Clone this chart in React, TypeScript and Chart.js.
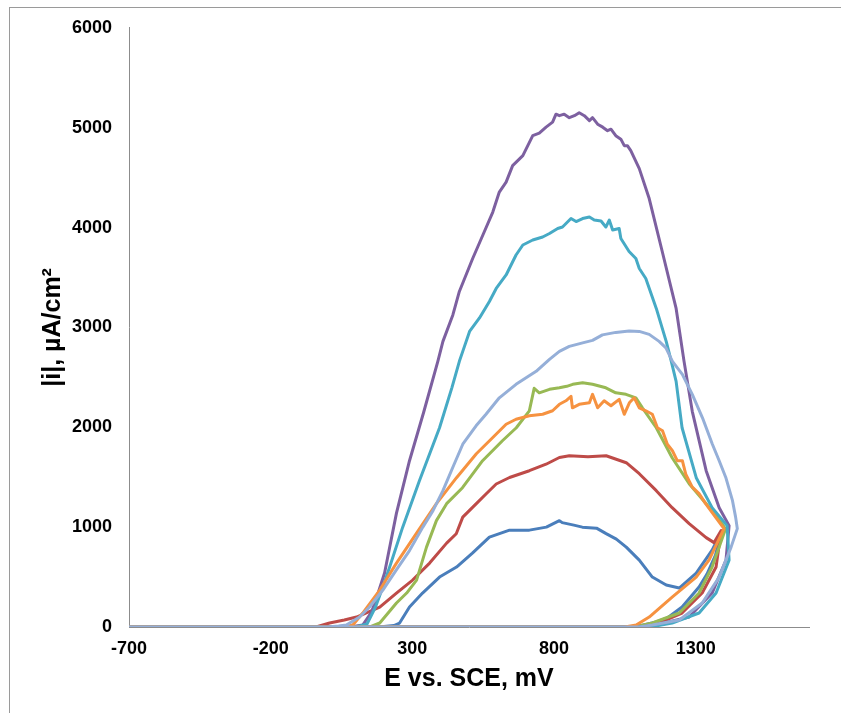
import React, { useEffect, useRef } from 'react';
import { Chart, registerables } from 'chart.js';

Chart.register(...registerables);

// Axis ticks
const xTickValues = [-700, -200, 300, 800, 1300];
const yTickValues = [0, 1000, 2000, 3000, 4000, 5000, 6000];

// Series 1 (blue)
const blueX = [-700, 150, 200, 235, 255, 290, 336, 396, 456, 512, 572, 643, 713, 773, 819, 829, 870, 900, 950, 984, 1020, 1055, 1101, 1147, 1196, 1242, 1302, 1358, 1390, 1370, 1340, 1312, 1252, 1200, 1161, 1100, 1050, -700];
const blueY = [0, 0, 5, 15, 40, 200, 340, 500, 600, 740, 900, 970, 970, 1000, 1065, 1045, 1020, 1000, 990, 935, 880, 800, 670, 500, 420, 390, 540, 770, 950, 720, 530, 400, 200, 90, 50, 10, 0, 0];

// Series 2 (red)
const redX = [-700, -40, 8, 60, 103, 185, 244, 301, 361, 421, 455, 478, 525, 560, 596, 643, 713, 772, 819, 854, 920, 984, 1055, 1101, 1161, 1217, 1277, 1337, 1365, 1390, 1372, 1323, 1252, 1161, 1100, 1050, -700];
const redY = [0, 0, 40, 70, 100, 200, 340, 470, 640, 840, 934, 1100, 1233, 1332, 1432, 1497, 1565, 1630, 1697, 1715, 1705, 1715, 1645, 1535, 1365, 1195, 1035, 895, 845, 965, 600, 340, 140, 30, 5, 0, 0];

// Series 3 (green)
const greenX = [-700, 150, 185, 244, 280, 315, 350, 385, 421, 477, 548, 618, 667, 713, 730, 748, 784, 819, 845, 866, 901, 936, 983, 1018, 1054, 1089, 1112, 1161, 1217, 1277, 1337, 1393, 1405, 1358, 1312, 1242, 1147, 1100, 1060, -700];
const greenY = [0, 0, 40, 240, 340, 470, 800, 1065, 1235, 1395, 1665, 1865, 1995, 2165, 2390, 2345, 2380, 2395, 2410, 2430, 2445, 2430, 2395, 2345, 2330, 2295, 2195, 1995, 1695, 1435, 1235, 1035, 980, 600, 340, 140, 40, 10, 0, 0];

// Series 4 (purple)
const purpleX = [-700, 80, 125, 156, 177, 202, 244, 290, 340, 390, 408, 443, 466, 513, 549, 584, 607, 631, 654, 690, 725, 748, 772, 795, 807, 819, 836, 854, 872, 889, 907, 925, 936, 954, 972, 989, 1001, 1018, 1036, 1048, 1059, 1071, 1101, 1136, 1182, 1231, 1259, 1288, 1337, 1383, 1418, 1407, 1358, 1277, 1160, 1100, -700];
const purpleY = [0, 0, 20, 150, 320, 540, 1140, 1665, 2150, 2660, 2860, 3125, 3360, 3690, 3925, 4155, 4355, 4455, 4620, 4720, 4920, 4945, 5005, 5055, 5135, 5120, 5135, 5100, 5120, 5150, 5120, 5070, 5100, 5035, 5005, 4970, 4985, 4920, 4885, 4820, 4820, 4770, 4590, 4290, 3760, 3190, 2660, 2160, 1565, 1195, 1015, 670, 340, 100, 20, 0, 0];

// Series 5 (teal)
const tealX = [-700, 100, 140, 170, 192, 220, 266, 325, 396, 440, 466, 478, 502, 537, 572, 596, 631, 666, 690, 725, 760, 784, 813, 830, 860, 878, 901, 925, 942, 966, 983, 995, 1007, 1030, 1036, 1065, 1089, 1101, 1124, 1161, 1196, 1214, 1231, 1252, 1302, 1358, 1411, 1418, 1372, 1312, 1217, 1150, 1100, -700];
const tealY = [0, 0, 30, 200, 370, 600, 1000, 1465, 1995, 2400, 2660, 2760, 2960, 3095, 3260, 3390, 3525, 3725, 3825, 3875, 3905, 3940, 3990, 4005, 4090, 4060, 4090, 4105, 4075, 4065, 4005, 4075, 3975, 3990, 3890, 3760, 3690, 3590, 3490, 3190, 2860, 2660, 2460, 1995, 1495, 1195, 1015, 670, 340, 140, 40, 5, 0, 0];

// Series 6 (orange)
const orangeX = [-700, 60, 90, 125, 185, 244, 315, 385, 456, 526, 584, 631, 666, 713, 760, 795, 819, 842, 860, 865, 889, 925, 936, 954, 977, 1001, 1030, 1048, 1066, 1083, 1101, 1124, 1147, 1165, 1183, 1200, 1218, 1235, 1253, 1265, 1288, 1312, 1335, 1370, 1400, 1347, 1302, 1217, 1136, 1090, 1050, -700];
const orangeY = [0, 0, 20, 140, 370, 640, 940, 1235, 1495, 1735, 1897, 2030, 2080, 2115, 2130, 2165, 2230, 2265, 2310, 2195, 2230, 2245, 2330, 2195, 2265, 2215, 2280, 2130, 2245, 2295, 2195, 2165, 2130, 1995, 1965, 1830, 1765, 1665, 1665, 1530, 1400, 1335, 1235, 1100, 985, 670, 500, 300, 100, 20, 0, 0];

// Series 7 (light blue)
const lightX = [-700, 0, 40, 67, 114, 149, 196, 243, 290, 337, 373, 408, 443, 478, 525, 560, 607, 666, 737, 784, 819, 854, 901, 936, 971, 1018, 1065, 1101, 1136, 1171, 1195, 1218, 1253, 1288, 1324, 1359, 1383, 1406, 1430, 1441, 1447, 1425, 1383, 1323, 1242, 1147, 1100, -700];
const lightY = [0, 0, 10, 20, 100, 200, 370, 570, 765, 1000, 1165, 1365, 1600, 1830, 2015, 2130, 2295, 2430, 2560, 2680, 2760, 2810, 2845, 2870, 2925, 2950, 2965, 2960, 2930, 2860, 2795, 2660, 2530, 2330, 2095, 1830, 1665, 1500, 1265, 1100, 985, 800, 500, 240, 70, 20, 0, 0];

const seriesNames = ['S1', 'S2', 'S3', 'S4', 'S5', 'S6', 'S7'];
const seriesColors = ['#4A7EBB', '#BE4B48', '#98B954', '#7D60A0', '#46AAC5', '#F69240', '#95AFD8'];
const seriesX = [blueX, redX, greenX, purpleX, tealX, orangeX, lightX];
const seriesY = [blueY, redY, greenY, purpleY, tealY, orangeY, lightY];

const FONT = "'Liberation Sans', Arial, sans-serif";

const framePlugin = {
  id: 'frame',
  beforeDraw(chart: any) {
    const { ctx, width, height } = chart;
    ctx.save();
    ctx.fillStyle = '#ffffff';
    ctx.fillRect(0, 0, width, height);
    ctx.strokeStyle = '#9a9a9a';
    ctx.lineWidth = 1;
    ctx.strokeRect(9.5, 7.5, width + 20, height + 20);
    ctx.restore();
  },
};

export default function App() {
  const ref = useRef<HTMLCanvasElement | null>(null);

  useEffect(() => {
    if (!ref.current) return;
    const datasets = seriesNames.map((name, i) => ({
      label: name,
      data: seriesX[i].map((x, j) => ({ x, y: seriesY[i][j] })),
      borderColor: seriesColors[i],
      backgroundColor: seriesColors[i],
      borderWidth: 3,
      borderJoinStyle: 'round' as const,
      pointRadius: 0,
      showLine: true,
      tension: 0,
      fill: false,
      order: seriesNames.length - i,
    }));

    const chart = new Chart(ref.current, {
      type: 'scatter',
      data: { datasets },
      plugins: [framePlugin],
      options: {
        animation: false,
        responsive: false,
        maintainAspectRatio: false,
        layout: { padding: { top: 25, right: 32, bottom: 0, left: 0 } },
        plugins: {
          legend: { display: false },
          tooltip: { enabled: false },
          title: { display: false },
        },
        scales: {
          x: {
            type: 'linear',
            min: -700,
            max: 1700,
            afterBuildTicks: (scale: any) => {
              scale.ticks = xTickValues.map((v) => ({ value: v }));
            },
            afterFit: (scale: any) => {
              scale.height = 86;
            },
            grid: { display: false, drawTicks: false },
            border: { display: true, color: '#8c8c8c', width: 1 },
            ticks: {
              padding: 11,
              color: '#000',
              font: { family: FONT, size: 18, weight: 'bold' },
              maxRotation: 0,
              autoSkip: false,
              callback: (v: any) => String(v),
            },
            title: {
              display: true,
              text: 'E vs. SCE, mV',
              color: '#000',
              font: { family: FONT, size: 25, weight: 'bold' },
              padding: { top: 0, bottom: 19 },
            },
          },
          y: {
            type: 'linear',
            min: 0,
            max: 6000,
            afterBuildTicks: (scale: any) => {
              scale.ticks = yTickValues.map((v) => ({ value: v }));
            },
            afterFit: (scale: any) => {
              scale.width = 129;
            },
            grid: { display: false, drawTicks: false },
            border: { display: true, color: '#8c8c8c', width: 1 },
            ticks: {
              padding: 17,
              color: '#000',
              font: { family: FONT, size: 18, weight: 'bold' },
              callback: (v: any) => String(v),
            },
            title: {
              display: true,
              text: '|i|, µA/cm²',
              color: '#000',
              font: { family: FONT, size: 25, weight: 'bold' },
              padding: { top: 38, bottom: 0 },
            },
          },
        },
      },
    });
    return () => chart.destroy();
  }, []);

  return (
    <div style={{ position: 'absolute', left: 0, top: 0, width: 841, height: 713 }}>
      <canvas ref={ref} width={841} height={713} style={{ width: 841, height: 713, display: 'block' }} />
    </div>
  );
}
